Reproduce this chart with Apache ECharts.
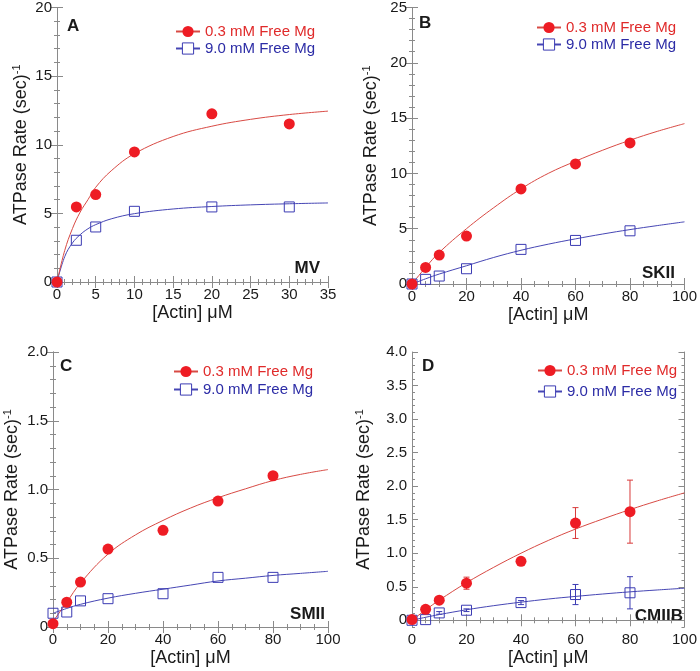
<!DOCTYPE html>
<html>
<head>
<meta charset="utf-8">
<script src="https://cdn.jsdelivr.net/npm/echarts@6/dist/echarts.min.js"></script>
<style>html,body{margin:0;padding:0;background:#fff;}#c{width:700px;height:671px;}</style>
</head>
<body>
<div id="c"></div>
<script>
// ---------- Data ----------
const legendRed = '0.3 mM Free Mg';
const legendBlue = '9.0 mM Free Mg';

// Panel A (MV)
const xA = [0, 2.5, 5, 10, 20, 30];
const redA = [0, 5.47, 6.37, 9.48, 12.25, 11.52];
const blueA = [0, 3.04, 4.01, 5.15, 5.47, 5.47];
const fitXA = [0, 1, 2, 3, 4, 5, 7, 10, 15, 20, 25, 30, 35];
const fitRedA = [0, 2.3, 3.9, 5.1, 6.0, 6.9, 8.1, 9.35, 10.6, 11.35, 11.85, 12.2, 12.45];
const fitBlueA = [0, 1.85, 2.85, 3.45, 3.88, 4.18, 4.6, 4.98, 5.32, 5.5, 5.62, 5.7, 5.76];

// Shared actin concentrations for B, C, D
const xBCD = [0, 5, 10, 20, 40, 60, 80];
const fitX100 = [0, 5, 10, 20, 30, 40, 50, 60, 70, 80, 90, 100];

// Panel B (SKII)
const redB = [0, 1.5, 2.62, 4.33, 8.6, 10.86, 12.75];
const blueB = [0, 0.42, 0.72, 1.38, 3.13, 3.94, 4.81];
const fitRedB = [0, 1.5, 2.85, 5.0, 6.9, 8.6, 10.0, 11.1, 12.1, 13.0, 13.8, 14.5];
const fitBlueB = [0, 0.47, 0.9, 1.65, 2.4, 3.05, 3.6, 4.08, 4.52, 4.92, 5.28, 5.62];

// Panel C (SMII)
const redC = [0.024, 0.18, 0.327, 0.567, 0.703, 0.916, 1.10];
const blueC = [0.10, 0.109, 0.19, 0.206, 0.242, 0.361, 0.361];
const fitRedC = [0.04, 0.18, 0.32, 0.53, 0.67, 0.775, 0.865, 0.94, 1.005, 1.065, 1.11, 1.145];
const fitBlueC = [0.10, 0.135, 0.165, 0.21, 0.245, 0.275, 0.305, 0.335, 0.355, 0.375, 0.39, 0.405];

// Panel D (CMIIB)
const redD = [0.01, 0.164, 0.30, 0.553, 0.88, 1.45, 1.62];
const redDErr = [0, 0, 0.02, 0.09, 0, 0.23, 0.47];
const blueD = [0, 0.01, 0.11, 0.15, 0.264, 0.384, 0.41];
const blueDErr = [0, 0, 0.02, 0.02, 0.03, 0.15, 0.24];
const fitRedD = [0, 0.155, 0.3, 0.56, 0.79, 1.0, 1.19, 1.36, 1.51, 1.65, 1.78, 1.9];
const fitBlueD = [0, 0.045, 0.085, 0.157, 0.218, 0.27, 0.317, 0.356, 0.392, 0.424, 0.452, 0.478];

// Tick values for panel D's y axis (axis starts slightly below 0)
const dYTicks = [0, 0.5, 1.0, 1.5, 2.0, 2.5, 3.0, 3.5, 4.0];
const dYMinor = [-0.1, 0.1, 0.2, 0.3, 0.4, 0.6, 0.7, 0.8, 0.9, 1.1, 1.2, 1.3, 1.4, 1.6, 1.7, 1.8, 1.9,
  2.1, 2.2, 2.3, 2.4, 2.6, 2.7, 2.8, 2.9, 3.1, 3.2, 3.3, 3.4, 3.6, 3.7, 3.8, 3.9];

const panelLetters = ['A', 'B', 'C', 'D'];
const panelNames = ['MV', 'SKII', 'SMII', 'CMIIB'];

// ---------- Styling ----------
const FONT = 'Liberation Sans, Arial, Helvetica, sans-serif';
const RED = '#ee1c24';
const RED_LINE = '#d84a44';
const BLUE = '#3b3bb3';
const BLUE_LINE = '#4646b4';
const AXIS = '#8a8a8a';
const TXT = '#1a1a1a';

const grids = [
  { left: 57, top: 7, width: 271, height: 275 },
  { left: 412, top: 7, width: 275, height: 277 },
  { left: 53, top: 352, width: 275, height: 275 },
  { left: 412, top: 352, width: 275, height: 275 }
];
const yNameGaps = [25, 30, 30, 37];
const xCfg = [
  { max: 35, interval: 5, split: 5 },
  { max: 100, interval: 20, split: 4 },
  { max: 100, interval: 20, split: 4 },
  { max: 100, interval: 20, split: 4 }
];
const yCfg = [
  { min: 0, max: 20, interval: 5, split: 5 },
  { min: 0, max: 25, interval: 5, split: 5 },
  { min: 0, max: 2, interval: 0.5, split: 5 },
  { min: -0.1, max: 4, interval: 0.5, split: 5 }
];
const legendPos = [
  { left: 170, top: 19, gap: 2 },
  { left: 531, top: 15, gap: 2 },
  { left: 168, top: 359, gap: 3 },
  { left: 532, top: 358, gap: 6 }
];
const letterPos = [[67, 26], [419, 23], [60, 366], [422, 366]];
const namePos = [[320, 268], [675, 273], [325, 614], [683, 616]];

function fmtY(p) {
  return function (v) {
    if (p >= 2) return v === 0 ? '0' : v.toFixed(1);
    return String(v);
  };
}

const xAxes = [], yAxes = [], series = [], legends = [], graphics = [];

grids.forEach(function (g, i) {
  const xc = xCfg[i], yc = yCfg[i];
  xAxes.push({
    type: 'value', gridIndex: i, position: 'bottom', min: 0, max: xc.max, interval: xc.interval,
    name: '[Actin] \u03bcM', nameLocation: 'middle', nameGap: 22,
    nameTextStyle: { fontFamily: FONT, fontSize: 18, color: TXT },
    axisLine: { show: true, lineStyle: { color: AXIS, width: 1 } },
    axisTick: { show: true, inside: true, length: 6, lineStyle: { color: AXIS } },
    minorTick: { show: true, splitNumber: xc.split, length: 3, lineStyle: { color: AXIS } },
    axisLabel: { fontFamily: FONT, fontSize: 15, color: TXT, margin: 5 },
    splitLine: { show: false }
  });
  xAxes.push({
    type: 'value', gridIndex: i, position: 'top', min: 0, max: xc.max, interval: xc.interval,
    axisLine: { show: true, lineStyle: { color: AXIS, width: 1 } },
    axisTick: { show: true, inside: true, length: 6, lineStyle: { color: AXIS } },
    minorTick: { show: true, splitNumber: xc.split, length: 3, lineStyle: { color: AXIS } },
    axisLabel: { show: false }, splitLine: { show: false }
  });
  const yName = '{m|ATPase Rate (sec)}{s|-1}';
  const yNameStyle = {
    fontFamily: FONT, color: TXT,
    rich: {
      m: { fontFamily: FONT, fontSize: 18, color: TXT },
      s: { fontFamily: FONT, fontSize: 11, color: TXT, padding: [0, 0, 10, 0] }
    }
  };
  if (i < 3) {
    yAxes.push({
      type: 'value', gridIndex: i, position: 'left', min: yc.min, max: yc.max, interval: yc.interval,
      name: yName, nameLocation: 'middle', nameGap: yNameGaps[i], nameTextStyle: yNameStyle,
      axisLine: { show: true, lineStyle: { color: AXIS, width: 1 } },
      axisTick: { show: true, inside: true, length: 6, lineStyle: { color: AXIS } },
      minorTick: { show: true, splitNumber: yc.split, length: 3, lineStyle: { color: AXIS } },
      axisLabel: { fontFamily: FONT, fontSize: 15, color: TXT, margin: 5, formatter: fmtY(i) },
      splitLine: { show: false }
    });
    yAxes.push({
      type: 'value', gridIndex: i, position: 'right', min: yc.min, max: yc.max, interval: yc.interval,
      axisLine: { show: true, lineStyle: { color: AXIS, width: 1 } },
      axisTick: { show: true, inside: true, length: 6, lineStyle: { color: AXIS } },
      minorTick: { show: true, splitNumber: yc.split, length: 3, lineStyle: { color: AXIS } },
      axisLabel: { show: false }, splitLine: { show: false }
    });
  } else {
    ['left', 'right'].forEach(function (pos) {
      yAxes.push({
        type: 'value', gridIndex: i, position: pos, min: yc.min, max: yc.max,
        name: pos === 'left' ? yName : '', nameLocation: 'middle', nameGap: yNameGaps[i], nameTextStyle: yNameStyle,
        axisLine: { show: true, lineStyle: { color: AXIS, width: 1 } },
        axisTick: { show: true, inside: true, length: 6, customValues: dYTicks, lineStyle: { color: AXIS } },
        axisLabel: { show: pos === 'left', customValues: dYTicks, fontFamily: FONT, fontSize: 15, color: TXT, margin: 5, formatter: fmtY(i) },
        splitLine: { show: false }
      });
      yAxes.push({
        type: 'value', gridIndex: i, position: pos, min: yc.min, max: yc.max,
        axisLine: { show: false },
        axisTick: { show: true, inside: true, length: 3, customValues: dYMinor, lineStyle: { color: AXIS } },
        axisLabel: { show: false, customValues: dYMinor }, splitLine: { show: false }
      });
    });
  }

  const lp = legendPos[i];
  legends.push({
    left: lp.left, top: lp.top, orient: 'vertical', itemWidth: 24, itemHeight: 14, itemGap: lp.gap,
    selectedMode: false,
    textStyle: { fontFamily: FONT, fontSize: 15 },
    data: [
      { name: legendRed, textStyle: { color: '#e02a2a' }, itemStyle: { color: RED } },
      { name: legendBlue, textStyle: { color: '#2c2ca6' }, itemStyle: { color: '#fff', borderColor: BLUE, borderWidth: 1 } }
    ]
  });

  graphics.push({
    type: 'text', x: letterPos[i][0], y: letterPos[i][1],
    style: { text: panelLetters[i], font: 'bold 17px ' + FONT, fill: TXT, textVerticalAlign: 'middle' }
  });
  graphics.push({
    type: 'text', x: namePos[i][0], y: namePos[i][1],
    style: { text: panelNames[i], font: 'bold 17px ' + FONT, fill: TXT, textAlign: 'right', textVerticalAlign: 'middle' }
  });
});

function yIdx(i) { return i < 3 ? i * 2 : 6; }
function zip(xs, ys) { return xs.map(function (x, k) { return [x, ys[k]]; }); }

const panelData = [
  { x: xA, red: redA, blue: blueA, fx: fitXA, fr: fitRedA, fb: fitBlueA },
  { x: xBCD, red: redB, blue: blueB, fx: fitX100, fr: fitRedB, fb: fitBlueB },
  { x: xBCD, red: redC, blue: blueC, fx: fitX100, fr: fitRedC, fb: fitBlueC },
  { x: xBCD, red: redD, blue: blueD, fx: fitX100, fr: fitRedD, fb: fitBlueD }
];

function errorSeries(i, xs, ys, errs, color) {
  const data = [];
  xs.forEach(function (x, k) { if (errs[k] > 0) data.push([x, ys[k] - errs[k], ys[k] + errs[k]]); });
  return {
    type: 'custom', xAxisIndex: i * 2, yAxisIndex: yIdx(i), silent: true, z: 1,
    data: data,
    renderItem: function (params, api) {
      const x = api.value(0);
      const lo = api.coord([x, api.value(1)]);
      const hi = api.coord([x, api.value(2)]);
      const w = 3;
      const st = { stroke: color, lineWidth: 1 };
      return {
        type: 'group', children: [
          { type: 'line', shape: { x1: lo[0], y1: lo[1], x2: hi[0], y2: hi[1] }, style: st },
          { type: 'line', shape: { x1: lo[0] - w, y1: lo[1], x2: lo[0] + w, y2: lo[1] }, style: st },
          { type: 'line', shape: { x1: hi[0] - w, y1: hi[1], x2: hi[0] + w, y2: hi[1] }, style: st }
        ]
      };
    }
  };
}

panelData.forEach(function (d, i) {
  const xi = i * 2, yi = yIdx(i);
  series.push({
    name: legendBlue, type: 'line', xAxisIndex: xi, yAxisIndex: yi, data: zip(d.fx, d.fb),
    smooth: 0.4, showSymbol: false, symbol: 'rect', symbolSize: 10, silent: true, z: 2,
    lineStyle: { color: BLUE_LINE, width: 1 }, itemStyle: { color: '#fff', borderColor: BLUE, borderWidth: 1 }
  });
  series.push({
    name: legendRed, type: 'line', xAxisIndex: xi, yAxisIndex: yi, data: zip(d.fx, d.fr),
    smooth: 0.4, showSymbol: false, symbol: 'circle', symbolSize: 11, silent: true, z: 2,
    lineStyle: { color: RED_LINE, width: 1 }, itemStyle: { color: RED }
  });
  if (i === 3) {
    series.push(errorSeries(i, d.x, d.blue, blueDErr, BLUE));
    series.push(errorSeries(i, d.x, d.red, redDErr, '#d83a3a'));
  }
  series.push({
    name: '9.0 mM data', type: 'scatter', xAxisIndex: xi, yAxisIndex: yi, data: zip(d.x, d.blue),
    symbol: 'rect', symbolSize: 10, clip: false, z: 3,
    itemStyle: { color: 'rgba(255,255,255,0)', borderColor: BLUE, borderWidth: 1, opacity: 1 }
  });
  series.push({
    name: '0.3 mM data', type: 'scatter', xAxisIndex: xi, yAxisIndex: yi, data: zip(d.x, d.red),
    symbol: 'circle', symbolSize: 11, clip: false, z: 4,
    itemStyle: { color: RED, opacity: 1 }
  });
});

const chart = echarts.init(document.getElementById('c'), null, { renderer: 'canvas' });
chart.setOption({
  backgroundColor: '#fff',
  animation: false,
  grid: grids.map(function (g) { return Object.assign({ containLabel: false }, g); }),
  xAxis: xAxes,
  yAxis: yAxes,
  legend: legends,
  graphic: graphics,
  series: series
});
</script>
</body>
</html>
